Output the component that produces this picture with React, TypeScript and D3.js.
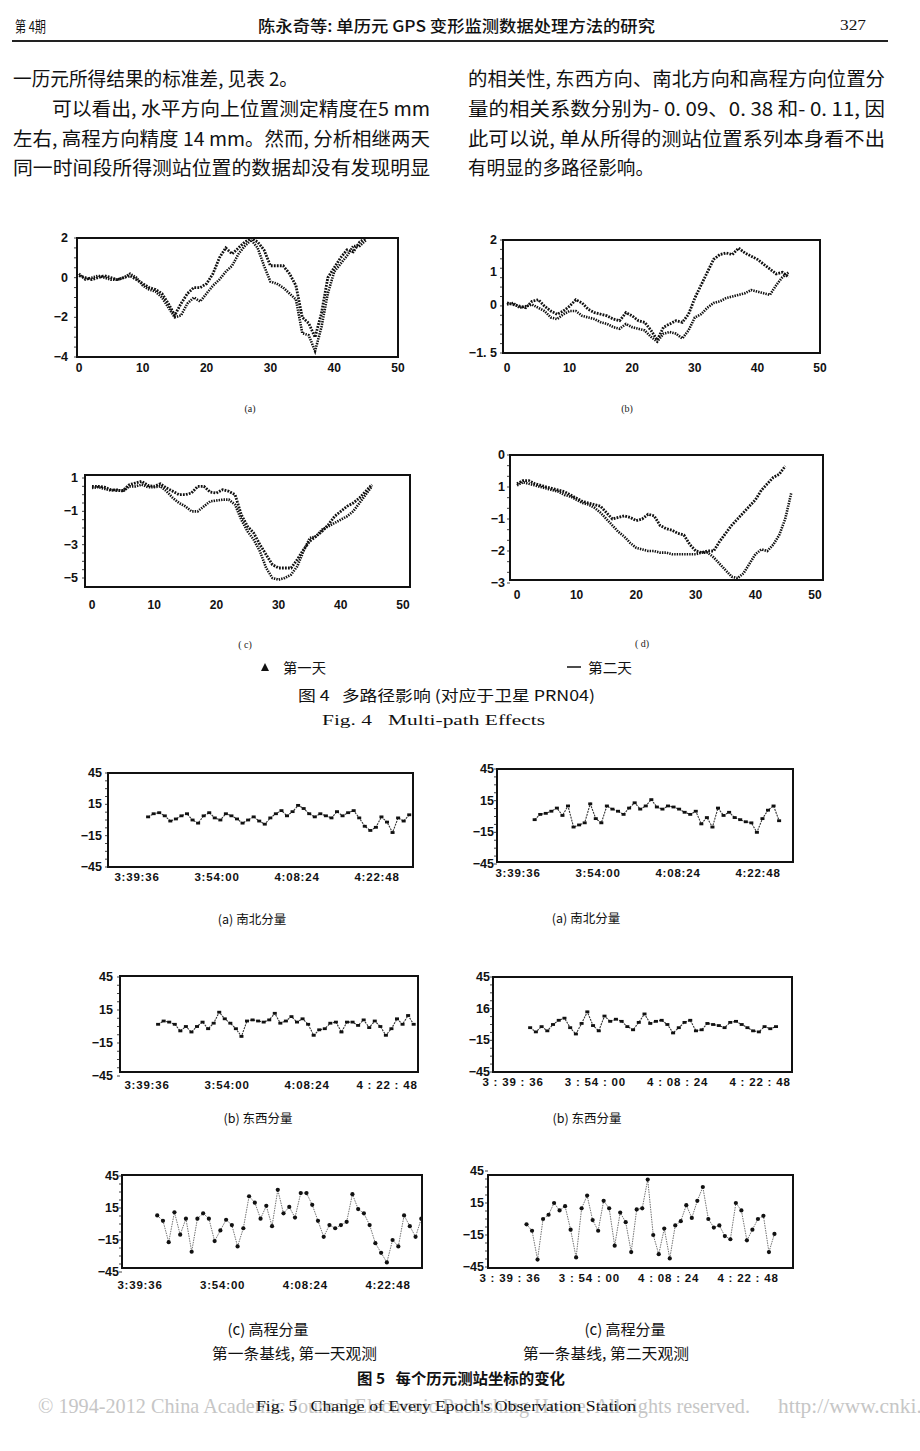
import React from "react";
import * as d3 from "d3";

const CJK = '"Noto Sans CJK SC", "Noto Sans", sans-serif';
const SERIF = '"Liberation Serif", "DejaVu Serif", serif';
const SANS = '"Liberation Sans", Arial, sans-serif';

// ---------------- Fig. 4 data (epoch index 0..50) ----------------
const epochs46 = [0,1,2,3,4,5,6,7,8,9,10,11,12,13,14,15,16,17,18,19,20,21,22,23,24,25,26,27,28,29,30,31,32,33,34,35,36,37,38,39,40,41,42,43,44,45];
const epochs47 = [0,1,2,3,4,5,6,7,8,9,10,11,12,13,14,15,16,17,18,19,20,21,22,23,24,25,26,27,28,29,30,31,32,33,34,35,36,37,38,39,40,41,42,43,44,45,46];
const fig4XTicks = [0, 10, 20, 30, 40, 50];

const f4aDay1 = [0.1,0.0,-0.1,0.0,0.1,0.0,-0.1,0.0,0.1,-0.1,-0.3,-0.5,-0.6,-0.8,-1.3,-1.9,-1.3,-0.8,-0.5,-0.5,-0.3,0.2,1.0,1.5,1.2,1.5,1.8,2.0,1.8,1.4,0.6,0.6,0.6,0.2,-0.4,-2.0,-2.3,-3.0,-1.8,0.0,0.5,1.0,1.4,1.3,1.8,2.0];
const f4aDay2 = [0.2,-0.1,0.0,0.1,0.0,-0.1,-0.1,0.0,0.2,0.0,-0.4,-0.6,-0.7,-1.0,-1.5,-2.0,-1.9,-1.3,-1.0,-1.2,-0.8,-0.4,-0.1,0.3,0.6,1.2,1.6,1.9,1.5,0.6,-0.2,-0.3,-0.5,-0.8,-1.1,-2.8,-2.9,-3.7,-2.5,-0.8,0.3,0.7,1.1,1.6,1.6,1.9];
const f4aYTicks = [2, 0, -2, -4];
const f4aYLabels = ["2", "0", "\u22122", "\u22124"];

const f4bDay1 = [0.05,0.0,-0.05,-0.1,0.1,0.15,-0.05,-0.2,-0.3,-0.2,-0.05,0.15,0.05,-0.15,-0.25,-0.3,-0.35,-0.45,-0.5,-0.25,-0.35,-0.5,-0.55,-0.8,-1.1,-0.7,-0.6,-0.5,-0.55,-0.3,0.2,0.6,1.0,1.4,1.55,1.6,1.55,1.75,1.6,1.5,1.4,1.25,1.1,0.95,1.0,0.85];
const f4bDay2 = [0.0,0.05,-0.1,-0.05,0.0,-0.1,-0.2,-0.4,-0.45,-0.3,-0.2,-0.2,-0.35,-0.4,-0.45,-0.55,-0.6,-0.7,-0.75,-0.6,-0.7,-0.75,-0.8,-1.0,-1.15,-0.9,-0.85,-0.9,-1.05,-0.8,-0.4,-0.3,-0.1,0.05,0.1,0.2,0.25,0.3,0.35,0.45,0.4,0.35,0.3,0.6,0.85,1.0];
const f4bYTicks = [2, 1, 0, -1.5];
const f4bYLabels = ["2", "1", "0", "\u22121. 5"];

const f4cDay1 = [0.5,0.5,0.45,0.3,0.25,0.25,0.6,0.7,0.8,0.55,0.5,0.65,0.4,0.2,0.0,0.0,0.1,0.5,0.5,0.15,0.1,0.3,0.2,0.0,-1.2,-1.9,-2.3,-3.0,-3.6,-4.2,-4.4,-4.4,-4.4,-3.9,-3.3,-2.8,-2.5,-2.2,-1.8,-1.3,-1.0,-0.7,-0.5,-0.2,0.2,0.6];
const f4cDay2 = [0.4,0.45,0.35,0.25,0.3,0.2,0.5,0.5,0.6,0.45,0.45,0.5,0.2,-0.2,-0.5,-0.7,-1.0,-1.0,-0.7,-0.4,-0.35,-0.3,-0.3,-0.6,-1.5,-2.2,-2.7,-3.4,-4.4,-5.0,-5.1,-5.0,-4.8,-4.3,-3.4,-2.6,-2.5,-2.1,-1.9,-1.7,-1.5,-1.3,-1.0,-0.5,0.0,0.5];
const f4cYTicks = [1, -1, -3, -5];
const f4cYLabels = ["1", "\u22121", "\u22123", "\u22125"];

const f4dDay1 = [-0.9,-0.8,-0.8,-0.9,-0.95,-1.0,-1.05,-1.1,-1.15,-1.25,-1.35,-1.45,-1.5,-1.55,-1.6,-1.8,-2.0,-1.95,-1.9,-1.95,-2.05,-2.0,-1.85,-1.9,-2.2,-2.3,-2.35,-2.45,-2.5,-2.8,-3.0,-3.05,-3.0,-3.0,-2.7,-2.45,-2.2,-2.0,-1.8,-1.6,-1.4,-1.1,-0.9,-0.7,-0.6,-0.35];
const f4dDay2 = [-0.95,-0.85,-0.9,-0.95,-1.0,-1.05,-1.1,-1.15,-1.25,-1.3,-1.4,-1.5,-1.55,-1.65,-1.8,-2.0,-2.2,-2.4,-2.55,-2.75,-2.9,-2.95,-3.0,-3.0,-3.05,-3.05,-3.1,-3.1,-3.1,-3.1,-3.1,-3.05,-3.05,-3.2,-3.4,-3.6,-3.8,-3.85,-3.7,-3.4,-3.1,-2.95,-3.0,-2.8,-2.5,-2.0,-1.2];
const f4dYTicks = [0, -1, -2, -3, -4];
const f4dYLabels = ["0", "1", "\u22121", "\u22122", "\u22123"];

// ---------------- Fig. 5 data (minutes after 3:39:36, values in mm) ----------------
const timeTicks = [0, 14.4, 28.8, 43.2];
const timeLabelsTight = ["3:39:36", "3:54:00", "4:08:24", "4:22:48"];
const timeLabelsMixed = ["3:39:36", "3:54:00", "4:08:24", "4 : 22 : 48"];
const timeLabelsSpaced = ["3 : 39 : 36", "3 : 54 : 00", "4 : 08 : 24", "4 : 22 : 48"];
const f5YTicks = [45, 15, -15, -45];
const f5YLabels = ["45", "15", "\u221215", "\u221245"];
const f5bRYLabels = ["45", "16", "\u221215", "\u221245"];

const nsDay1Min = [2,3,4,5,6,7,8,9,10,11,12,13,14,15,16,17,18,19,20,21,22,23,24,25,26,27,28,29,30,31,32,33,34,35,36,37,38,39,40,41,42,43,44,45,46,47,48,49];
const nsDay1 = [3,6,7,4,-1,1,4,6,0,-3,4,7,2,0,6,4,1,-3,0,3,-1,-4,2,6,9,4,8,14,11,6,3,6,4,2,8,4,7,9,2,-6,-10,-7,3,-2,-12,2,-1,5];

const nsDay2Min = [3,4,5,6,7,8,9,10,11,12,13,14,15,16,17,18,19,20,21,22,23,24,25,26,27,28,29,30,31,32,33,34,35,36,37,38,39,40,41,42,43,44,45,46,47];
const nsDay2 = [-3,2,3,5,8,1,10,-10,-8,-6,12,-2,-6,10,7,5,2,8,13,7,10,16,9,7,10,9,7,4,2,5,-7,-1,-10,8,1,4,-1,-3,-5,-6,-15,-2,6,10,-4];

const ewDay1Min = [2,3,4,5,6,7,8,9,10,11,12,13,14,15,16,17,18,19,20,21,22,23,24,25,26,27,28,29,30,31,32,33,34,35,36,37,38,39,40,41,42,43,44,45,46,47,48];
const ewDay1 = [2,5,4,2,-4,0,-5,0,4,-2,3,13,7,3,-2,-9,5,6,5,4,6,12,3,5,9,4,7,2,-8,-3,-2,3,4,-5,4,4,1,6,-1,5,0,-8,-2,7,2,10,2];

const ewDay2Min = [3,4,5,6,7,8,9,10,11,12,13,14,15,16,17,18,19,20,21,22,23,24,25,26,27,28,29,30,31,32,33,34,35,36,37,38,39,40,41,42,43,44,45,46];
const ewDay2 = [-3,-7,-2,-6,0,4,6,-3,-9,1,12,-1,-6,8,3,5,3,-2,-5,2,10,1,3,4,0,-8,-3,2,4,-6,-5,1,0,-1,-3,2,3,0,-3,-6,-7,-2,-4,-2];

const upDay1Min = [3,4,5,6,7,8,9,10,11,12,13,14,15,16,17,18,19,20,21,22,23,24,25,26,27,28,29,30,31,32,33,34,35,36,37,38,39,40,41,42,43,44,45,46,47,48,49];
const upDay1 = [8,3,-17,11,-10,5,-26,5,10,5,-16,-6,4,-1,-21,-4,26,20,5,17,-2,32,10,16,6,29,29,18,3,-12,-1,-4,-1,2,28,14,10,-1,-18,-27,-36,-15,-21,8,-2,-12,5];

const upDay2Min = [3,4,5,6,7,8,9,10,11,12,13,14,15,16,17,18,19,20,21,22,23,24,25,26,27,28,29,30,31,32,33,34,35,36,37,38,39,40,41,42,43,44,45,46,47,48];
const upDay2 = [-5,-11,-38,0,4,15,8,12,-10,-36,10,22,-1,-11,17,10,-25,6,-3,-31,9,10,37,-15,-33,-9,-37,-6,-2,13,1,17,30,0,-8,-6,-16,-19,15,8,-20,-10,0,3,-31,-14];

// ---------------- components ----------------
type Box = { l: number; r: number; t: number; b: number };

function Panel4(p: {
  id: string; box: Box; xr: [number, number]; yd: [number, number]; yr: [number, number];
  s1: number[]; s2: number[]; x1: number[]; x2: number[];
  yTicks: number[]; yLabels: string[]; yLabelX: number; xLabelY: number;
  caption: string; capX: number; capY: number;
}) {
  const x = d3.scaleLinear().domain([0, 50]).range(p.xr);
  const y = d3.scaleLinear().domain(p.yd).range(p.yr);
  const mk = (xs: number[], ys: number[]) =>
    d3.line<[number, number]>().x(d => x(d[0])).y(d => y(d[1]))(xs.map((v, i) => [v, ys[i]] as [number, number])) || "";
  const minor = d3.range(p.yd[0], p.yd[1] + 1e-9, (p.yd[1] - p.yd[0]) / 12);
  return (
    <g>
      <defs>
        <clipPath id={p.id}>
          <rect x={p.box.l} y={p.box.t} width={p.box.r - p.box.l} height={p.box.b - p.box.t} />
        </clipPath>
      </defs>
      <g clipPath={`url(#${p.id})`}>
        <path d={mk(p.x2, p.s2)} fill="none" stroke="#111" strokeWidth={2.6} strokeDasharray="1.4 1.1" />
        <path d={mk(p.x1, p.s1)} fill="none" stroke="#111" strokeWidth={2.8} strokeDasharray="1.8 1.2" />
      </g>
      {minor.map((v, i) => (
        <line key={i} x1={p.box.l - 3} x2={p.box.l} y1={y(v)} y2={y(v)} stroke="#444" strokeWidth={1} />
      ))}
      <rect x={p.box.l} y={p.box.t} width={p.box.r - p.box.l} height={p.box.b - p.box.t} fill="none" stroke="#111" strokeWidth={2} />
      {p.yTicks.map((v, i) => (
        <text key={i} x={p.yLabelX} y={y(v)} textAnchor="end" dominantBaseline="central" fontFamily={SANS} fontWeight="bold" fontSize={12.5} fill="#111">{p.yLabels[i]}</text>
      ))}
      {fig4XTicks.map((v, i) => (
        <text key={i} x={x(v)} y={p.xLabelY} textAnchor="middle" dominantBaseline="central" fontFamily={SANS} fontWeight="bold" fontSize={12} fill="#111">{v}</text>
      ))}
      <text x={p.capX} y={p.capY} textAnchor="middle" dominantBaseline="central" fontFamily={SERIF} fontSize={10} fill="#222" style={{ whiteSpace: "pre" }}>{p.caption}</text>
    </g>
  );
}

function Panel5(p: {
  id: string; box: Box; t0: number; t43: number; yr: [number, number];
  mins: number[]; vals: number[]; big?: boolean;
  yLabels: string[]; yLabelX: number; xLabelY: number; xLabels: string[];
}) {
  const x = d3.scaleLinear().domain([0, 43.2]).range([p.t0, p.t43]);
  const y = d3.scaleLinear().domain([-45, 45]).range(p.yr);
  const pts = p.mins.map((m, i) => [m, p.vals[i]] as [number, number]);
  const path = d3.line<[number, number]>().x(d => x(d[0])).y(d => y(d[1]))(pts) || "";
  const minor = d3.range(-45, 45.01, 7.5);
  return (
    <g>
      <defs>
        <clipPath id={p.id}>
          <rect x={p.box.l} y={p.box.t} width={p.box.r - p.box.l} height={p.box.b - p.box.t} />
        </clipPath>
      </defs>
      <g clipPath={`url(#${p.id})`}>
        <path d={path} fill="none" stroke="#333" strokeWidth={p.big ? 0.7 : 1.1} strokeDasharray={p.big ? "1.5 1" : "2 1"} />
        {pts.map((d, i) =>
          p.big ? (
            <circle key={i} cx={x(d[0])} cy={y(d[1])} r={2.1} fill="#111" />
          ) : (
            <rect key={i} x={x(d[0]) - 2} y={y(d[1]) - 1.4} width={4} height={2.8} fill="#111" />
          )
        )}
      </g>
      {minor.map((v, i) => (
        <line key={i} x1={p.box.l - 3} x2={p.box.l} y1={y(v)} y2={y(v)} stroke="#444" strokeWidth={1} />
      ))}
      <rect x={p.box.l} y={p.box.t} width={p.box.r - p.box.l} height={p.box.b - p.box.t} fill="none" stroke="#111" strokeWidth={2} />
      {f5YTicks.map((v, i) => (
        <text key={i} x={p.yLabelX} y={y(v)} textAnchor="end" dominantBaseline="central" fontFamily={SANS} fontWeight="bold" fontSize={12.5} fill="#111">{p.yLabels[i]}</text>
      ))}
      {timeTicks.map((v, i) => (
        <text key={i} x={x(v)} y={p.xLabelY} textAnchor="middle" dominantBaseline="central" fontFamily={SANS} fontWeight="bold" fontSize={11.5} letterSpacing={0.8} fill="#111" style={{ whiteSpace: "pre" }}>{p.xLabels[i]}</text>
      ))}
    </g>
  );
}

function T(props: { x: number; y: number; len?: number; size?: number; anchor?: string; family?: string; weight?: string; fill?: string; children: React.ReactNode }) {
  return (
    <text
      x={props.x}
      y={props.y}
      textAnchor={props.anchor || "start"}
      dominantBaseline="central"
      fontFamily={props.family || CJK}
      fontSize={props.size || 19}
      fontWeight={props.weight || "normal"}
      fill={props.fill || "#111"}
      style={{ whiteSpace: "pre" }}
      {...(props.len ? { textLength: props.len, lengthAdjust: "spacingAndGlyphs" } : {})}
    >
      {props.children}
    </text>
  );
}

export default function App() {
  return (
    <svg width={920} height={1451} viewBox="0 0 920 1451" style={{ position: "absolute", left: 0, top: 0, background: "#fff" }}>
      <rect x={0} y={0} width={920} height={1451} fill="#fff" />
      {/* header */}
      <T x={15} y={25} size={15} len={31}>第 4期</T>
      <T x={258} y={25} size={16} weight="500" len={397}>陈永奇等: 单历元 GPS 变形监测数据处理方法的研究</T>
      <T x={840} y={25} size={15} family={SERIF} len={26}>327</T>
      <line x1={12} x2={888} y1={41} y2={41} stroke="#222" strokeWidth={2} />

      {/* body text */}
      <T x={13} y={77} len={285}>一历元所得结果的标准差, 见表 2。</T>
      <T x={52} y={107} len={378}>可以看出, 水平方向上位置测定精度在5 mm</T>
      <T x={13} y={137} len={417}>左右, 高程方向精度 14 mm。然而, 分析相继两天</T>
      <T x={13} y={166} len={417}>同一时间段所得测站位置的数据却没有发现明显</T>
      <T x={468} y={77} len={417}>的相关性, 东西方向、南北方向和高程方向位置分</T>
      <T x={468} y={107} len={417}>量的相关系数分别为- 0. 09、0. 38 和- 0. 11, 因</T>
      <T x={468} y={137} len={417}>此可以说, 单从所得的测站位置系列本身看不出</T>
      <T x={468} y={166} len={186}>有明显的多路径影响。</T>

      {/* Fig. 4 */}
      <Panel4 id="f4a" box={{ l: 77, r: 398, t: 238, b: 357 }} xr={[79, 398]} yd={[-4, 2]} yr={[357, 238]}
        s1={f4aDay1} s2={f4aDay2} x1={epochs46} x2={epochs46} yTicks={f4aYTicks} yLabels={f4aYLabels}
        yLabelX={68} xLabelY={368} caption="(a)" capX={250} capY={408} />
      <Panel4 id="f4b" box={{ l: 503, r: 820, t: 240, b: 353 }} xr={[507, 820]} yd={[-1.5, 2]} yr={[353, 240]}
        s1={f4bDay1} s2={f4bDay2} x1={epochs46} x2={epochs46} yTicks={f4bYTicks} yLabels={f4bYLabels}
        yLabelX={497} xLabelY={368} caption="(b)" capX={627} capY={408} />
      <Panel4 id="f4c" box={{ l: 85, r: 410, t: 475, b: 587 }} xr={[92, 403]} yd={[-5, 1]} yr={[578, 478]}
        s1={f4cDay1} s2={f4cDay2} x1={epochs46} x2={epochs46} yTicks={f4cYTicks} yLabels={f4cYLabels}
        yLabelX={78} xLabelY={605} caption="( c)" capX={245} capY={644} />
      <Panel4 id="f4d" box={{ l: 510, r: 823, t: 455, b: 580 }} xr={[517, 815]} yd={[-4, 0]} yr={[583, 455]}
        s1={f4dDay1} s2={f4dDay2} x1={epochs46} x2={epochs47} yTicks={f4dYTicks} yLabels={f4dYLabels}
        yLabelX={505} xLabelY={595} caption="( d)" capX={642} capY={643} />

      <path d="M261,671 L265,663 L269,671 Z" fill="#111" />
      <T x={283} y={667} size={14} len={43}>第一天</T>
      <line x1={567} x2={581} y1={667} y2={667} stroke="#111" strokeWidth={1.5} />
      <T x={588} y={667} size={14} len={44}>第二天</T>
      <T x={298} y={694} size={15} len={297}>图 4   多路径影响 (对应于卫星 PRN04)</T>
      <T x={322} y={720} size={14} family={SERIF} len={223}>Fig. 4   Multi-path Effects</T>

      {/* Fig. 5 */}
      <Panel5 id="f5a1" box={{ l: 108, r: 413, t: 773, b: 867 }} t0={137} t43={377} yr={[867, 773]}
        mins={nsDay1Min} vals={nsDay1} yLabels={f5YLabels} yLabelX={102} xLabelY={877} xLabels={timeLabelsTight} />
      <Panel5 id="f5a2" box={{ l: 497, r: 793, t: 769, b: 862 }} t0={518} t43={758} yr={[864, 769]}
        mins={nsDay2Min} vals={nsDay2} yLabels={f5YLabels} yLabelX={494} xLabelY={873} xLabels={timeLabelsTight} />
      <Panel5 id="f5b1" box={{ l: 120, r: 418, t: 976, b: 1072 }} t0={147} t43={387} yr={[1076, 977]}
        mins={ewDay1Min} vals={ewDay1} yLabels={f5YLabels} yLabelX={113} xLabelY={1085} xLabels={timeLabelsMixed} />
      <Panel5 id="f5b2" box={{ l: 493, r: 792, t: 977, b: 1072 }} t0={513} t43={760} yr={[1072, 977]}
        mins={ewDay2Min} vals={ewDay2} yLabels={f5bRYLabels} yLabelX={490} xLabelY={1082} xLabels={timeLabelsSpaced} />
      <Panel5 id="f5c1" box={{ l: 122, r: 422, t: 1175, b: 1268 }} t0={140} t43={388} yr={[1272, 1176]} big
        mins={upDay1Min} vals={upDay1} yLabels={f5YLabels} yLabelX={119} xLabelY={1285} xLabels={timeLabelsTight} />
      <Panel5 id="f5c2" box={{ l: 488, r: 793, t: 1175, b: 1268 }} t0={510} t43={748} yr={[1267, 1171]} big
        mins={upDay2Min} vals={upDay2} yLabels={f5YLabels} yLabelX={484} xLabelY={1278} xLabels={timeLabelsSpaced} />

      <T x={252} y={918} size={12.5} anchor="middle">(a) 南北分量</T>
      <T x={586} y={917} size={12.5} anchor="middle">(a) 南北分量</T>
      <T x={258} y={1117} size={12.5} anchor="middle">(b) 东西分量</T>
      <T x={587} y={1117} size={12.5} anchor="middle">(b) 东西分量</T>
      <T x={268} y={1328} size={15} anchor="middle">(c) 高程分量</T>
      <T x={625} y={1328} size={15} anchor="middle">(c) 高程分量</T>
      <T x={212} y={1352} size={15} len={165}>第一条基线, 第一天观测</T>
      <T x={523} y={1352} size={15} len={166}>第一条基线, 第二天观测</T>
      <T x={357} y={1377} size={15} weight="bold" len={208}>图 5   每个历元测站坐标的变化</T>

      {/* footer */}
      <T x={38} y={1406} size={21} family={SERIF} fill="#c6c6c6" len={712}>© 1994-2012 China Academic Journal Electronic Publishing House. All rights reserved.</T>
      <T x={778} y={1406} size={21} family={SERIF} fill="#c6c6c6" len={170}>http://www.cnki.net</T>
      <T x={256} y={1406} size={14} family={SERIF} len={380}>Fig. 5   Change of Every Epoch's Observation Station</T>
    </svg>
  );
}
